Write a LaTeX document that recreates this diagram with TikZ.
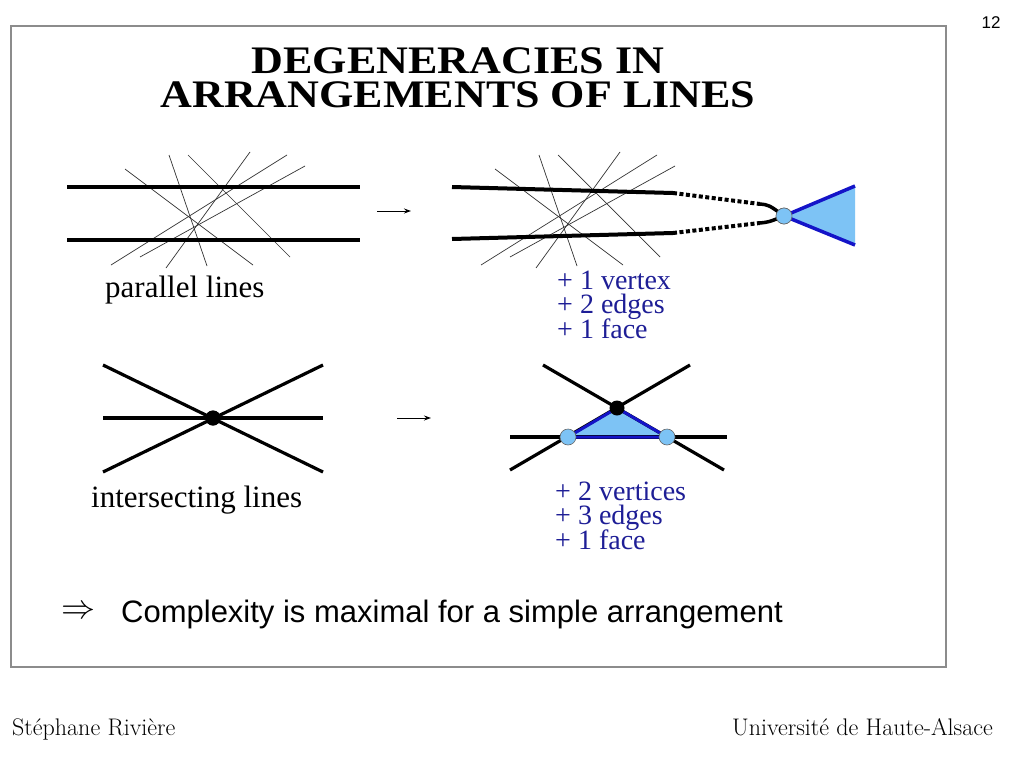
\documentclass[tikz,border=0pt]{standalone}
\usepackage{fontspec}
\usetikzlibrary{arrows.meta}
\newfontfamily\timesfont{Liberation Serif}
\newfontfamily\arialfont{Liberation Sans}
\definecolor{framegray}{RGB}{140,140,140}
\definecolor{textblue}{RGB}{30,30,150}
\definecolor{edgeblue}{RGB}{20,20,200}
\definecolor{faceblue}{RGB}{125,195,245}
\definecolor{vtxblue}{RGB}{125,195,245}
\newcommand{\stacklines}[2]{\vtop{\baselineskip=#1\lineskiplimit=-100pt\lineskip=0pt\halign{##\hfil\cr#2\cr}}}
\newcommand{\stackcentered}[2]{\vtop{\baselineskip=#1\lineskiplimit=-100pt\lineskip=0pt\halign{\hfil##\hfil\cr#2\cr}}}
\tikzset{
  thinline/.style={line width=0.7pt, draw=black!80},
  thickline/.style={line width=4pt, draw=black},
  dotline/.style={line width=4pt, draw=black, dash pattern=on 4pt off 2.5pt},
  medline/.style={line width=3.2pt, draw=black},
  blueedge/.style={line width=3.5pt, draw=edgeblue, line join=round},
  vtx/.style={circle, fill=vtxblue, draw=black!60, line width=0.6pt, inner sep=0pt, minimum size=16pt},
  bigdot/.style={circle, fill=black, inner sep=0pt, minimum size=15pt},
  smallarrow/.style={-{Stealth[length=7pt,width=5pt]}, line width=1pt},
  bluetext/.style={font=\timesfont\fontsize{28}{25}\selectfont, text=textblue, anchor=base west, inner sep=0pt},
  captiontext/.style={font=\timesfont\fontsize{31}{34}\selectfont, anchor=base west, inner sep=0pt},
  titletext/.style={font=\timesfont\bfseries\fontsize{39}{40}\selectfont, anchor=base, inner sep=0pt},
  foottext/.style={font=\fontsize{24}{26}\selectfont, inner sep=0pt},
}
\begin{document}
\begin{tikzpicture}[x=1pt,y=-1pt]
\useasboundingbox (0,0) rectangle (1024,768);
\fill[white] (0,0) rectangle (1024,768);
% frame
\draw[framegray, line width=1.3pt] (11,26) rectangle (946,667);
\node[font=\arialfont\fontsize{17}{19}\selectfont, inner sep=0pt] (pagenum) at (991,23) {12};
% title
\node[titletext] (title) at (458,74) {\stackcentered{33pt}{\scalebox{1.13}[1]{DEGENERACIES IN}\cr\scalebox{1.13}[1]{ARRANGEMENTS OF LINES}}};

% ---------- parallel lines: thin crossing lines (left and right copies) ----------
\foreach \dx/\side in {0/L,370/R}{
  \begin{scope}[xshift=\dx pt]
    \coordinate (\side a1) at (125,169); \coordinate (\side b1) at (253,265);
    \coordinate (\side a2) at (169,155); \coordinate (\side b2) at (207,266);
    \coordinate (\side a3) at (188,155); \coordinate (\side b3) at (290,257);
    \coordinate (\side a4) at (250,152); \coordinate (\side b4) at (166,268);
    \coordinate (\side a5) at (287,155); \coordinate (\side b5) at (111,265);
    \coordinate (\side a6) at (305,166); \coordinate (\side b6) at (140,257);
    \foreach \i in {1,...,6}{\draw[thinline] (\side a\i) -- (\side b\i);}
  \end{scope}
}
\coordinate (p1s) at (67,187); \coordinate (p1e) at (360,187);
\coordinate (p2s) at (67,240); \coordinate (p2e) at (360,240);
\draw[thickline] (p1s) -- (p1e);
\draw[thickline] (p2s) -- (p2e);
\node[captiontext] (cap1) at (105,297) {parallel lines};

% arrow 1
\coordinate (ar1s) at (377,211); \coordinate (ar1e) at (411,211);
\draw[smallarrow] (ar1s) -- (ar1e);

% ---------- parallel lines, right ----------
\node[vtx] (v1) at (784,216) {};
\coordinate (tri1) at (855,186);
\coordinate (tri2) at (855,245);
\fill[faceblue] (v1.center) -- (tri1) -- (tri2) -- cycle;
\coordinate (q1s) at (452,187); \coordinate (q1m) at (673,193); \coordinate (q1d) at (760,204);
\coordinate (q2s) at (452,239); \coordinate (q2m) at (673,233); \coordinate (q2d) at (760,223);
\draw[thickline] (q1s) -- (q1m);
\draw[thickline] (q2s) -- (q2m);
\draw[dotline] (q1m) -- (q1d);
\draw[dotline] (q2m) -- (q2d);
\draw[line width=3.5pt] (q1d) .. controls (769,205) .. (v1.center);
\draw[line width=3.5pt] (q2d) .. controls (769,222) .. (v1.center);
\draw[blueedge] (v1.center) -- (tri1);
\draw[blueedge] (v1.center) -- (tri2);
\node[vtx] (v1b) at (784,216) {};
\node[bluetext] (gain1) at (557,289) {\stacklines{24.5pt}{+ 1 vertex\cr + 2 edges\cr + 1 face}};

% ---------- intersecting lines, left ----------
\node[bigdot] (c0) at (213,418) {};
\coordinate (i1s) at (103,365); \coordinate (i1e) at (323,472);
\coordinate (i2s) at (323,365); \coordinate (i2e) at (103,472);
\coordinate (i3s) at (103,418); \coordinate (i3e) at (323,418);
\draw[medline] (i1s) -- (i1e);
\draw[medline] (i2s) -- (i2e);
\draw[medline] (i3s) -- (i3e);
\node[bigdot] (c0b) at (213,418) {};
\node[captiontext] (cap2) at (91,507) {intersecting lines};

% arrow 2
\coordinate (ar2s) at (397,418); \coordinate (ar2e) at (431,418);
\draw[smallarrow] (ar2s) -- (ar2e);

% ---------- intersecting lines, right ----------
\coordinate (j1s) at (543,365); \coordinate (j1e) at (724,470);
\coordinate (j2s) at (690,365); \coordinate (j2e) at (510,470);
\coordinate (j3s) at (510,437); \coordinate (j3e) at (727,437);
\coordinate (D) at (617,408);
\coordinate (Lc) at (568,437);
\coordinate (Rc) at (667,437);
\fill[faceblue] (D) -- (Lc) -- (Rc) -- cycle;
\draw[medline] (j1s) -- (j1e);
\draw[medline] (j2s) -- (j2e);
\draw[medline] (j3s) -- (j3e);
\draw[blueedge, line width=3pt] (D) -- (Lc) -- (Rc) -- cycle;
\node[vtx] (vl) at (Lc) {};
\node[vtx] (vr) at (Rc) {};
\node[bigdot] (vd) at (D) {};
\node[bluetext] (gain2) at (555,500) {\stacklines{24.5pt}{+ 2 vertices\cr + 3 edges\cr + 1 face}};

% ---------- conclusion ----------
\node[inner sep=0pt] (imp) at (78.5,612) {\scalebox{3.4}{$\Rightarrow$}};
\node[font=\arialfont\fontsize{31}{34}\selectfont, anchor=base west, inner sep=0pt] (concl) at (121,622) {Complexity is maximal for a simple arrangement};

% ---------- footer ----------
\node[foottext, anchor=base west] (author) at (12,735) {Stéphane Rivière};
\node[foottext, anchor=base east] (univ) at (993,735) {Université de Haute-Alsace};
\end{tikzpicture}
\end{document}
